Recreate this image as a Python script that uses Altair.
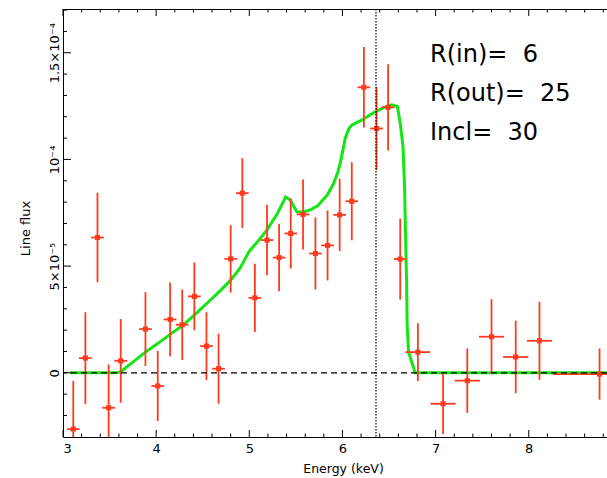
import altair as alt
import pandas as pd

# ---- data (flux in units of 1e-6) ----
energy = [3.11, 3.24, 3.37, 3.49, 3.62, 3.885, 4.017, 4.15, 4.28, 4.41, 4.54, 4.67,
          4.80, 4.925, 5.06, 5.19, 5.32, 5.445, 5.577, 5.71, 5.84, 5.97, 6.10, 6.23,
          6.366, 6.49, 6.62, 6.81, 7.08, 7.34, 7.60, 7.86, 8.115, 8.76]
flux = [-26.4, 6.9, 63.4, -16.4, 5.6, 20.5, -6.2, 25.0, 22.5, 35.8, 12.5, 1.9,
        53.4, 84.2, 35.1, 62.2, 54.0, 65.3, 74.2, 55.9, 59.7, 74.0, 80.4, 133.8,
        114.5, 124.4, 53.3, 9.7, -14.5, -3.7, 16.9, 7.4, 15.0, -0.6]
flux_err = [22.6, 21.5, 21.0, 20.3, 19.6, 17.3, 16.4, 17.3, 16.5, 15.9, 15.9, 16.4,
            15.8, 16.4, 16.0, 16.5, 15.8, 16.4, 16.4, 16.9, 16.4, 17.0, 18.3, 18.9,
            19.5, 20.2, 19.0, 13.5, 14.2, 15.1, 17.6, 17.0, 18.3, 12.0]
energy_err = [0.068] * 27 + [0.132, 0.135, 0.135, 0.135, 0.135, 0.135, 0.5]

model_energy = [3.075, 3.58, 3.62, 3.75, 3.885, 4.02, 4.15, 4.28, 4.41, 4.58, 4.70,
                4.80, 4.90, 5.00, 5.10, 5.19, 5.30, 5.39, 5.44, 5.51, 5.58, 5.66,
                5.73, 5.835, 5.905, 5.95, 5.98, 6.03, 6.07, 6.10, 6.21, 6.32, 6.44,
                6.53, 6.59, 6.62, 6.65, 6.667, 6.677, 6.688, 6.695, 6.71, 6.78, 8.84]
model_flux = [0, 0, 0.5, 5.0, 9.7, 13.8, 18.0, 22.0, 27.0, 34.0, 39.0,
              43.4, 49.0, 57.0, 62.0, 67.0, 74.5, 82.4, 81.0, 75.5, 75.4, 76.5,
              78.1, 83.2, 88.7, 94.0, 99.0, 110.0, 114.5, 116.0, 118.5, 121.5, 124.3,
              125.6, 124.8, 117.0, 106.0, 87.0, 65.0, 43.4, 21.5, 9.8, 0, 0]

line_energy = [6.36]
zero_level = [0]

x_major = [3, 4, 5, 6, 7, 8]
x_minor = [3.2, 3.4, 3.6, 3.8, 4.2, 4.4, 4.6, 4.8, 5.2, 5.4, 5.6, 5.8,
           6.2, 6.4, 6.6, 6.8, 7.2, 7.4, 7.6, 7.8, 8.2, 8.4, 8.6, 8.8]
y_major = [0, 50, 100, 150]
y_major_labels = ["0", "5×10⁻⁵", "10⁻⁴", "1.5×10⁻⁴"]
y_minor = [-20, -10, 10, 20, 30, 40, 60, 70, 80, 90, 110, 120, 130, 140, 160, 170]

NB = "\u00a0"
annotation = f"R(in)={NB} 6\nR(out)={NB} 25\nIncl={NB} 30"

# ---- styling ----
W, H = 544, 428
RED = "#ff3b1f"
GREEN = "#14e614"
FONT = "DejaVu Sans"

df = pd.DataFrame({"E": energy, "F": flux, "dF": flux_err, "dE": energy_err})
df["F_lo"] = df["F"] - df["dF"]
df["F_hi"] = df["F"] + df["dF"]
df["E_lo"] = df["E"] - df["dE"]
df["E_hi"] = df["E"] + df["dE"]
model_df = pd.DataFrame({"E": model_energy, "F": model_flux})

xs = alt.Scale(domain=[3, 8.84], nice=False, zero=False)
ys = alt.Scale(domain=[-30.1, 170.5], nice=False, zero=False)

label_expr = ""
for v, lab in zip(y_major, y_major_labels):
    label_expr += f"datum.value == {v} ? '{lab}' : "
label_expr += "''"

x_axis = alt.Axis(values=x_major, format="d", ticks=False, grid=False, domain=True,
                  domainColor="black", domainWidth=1, labelFont=FONT, labelFontSize=13,
                  labelColor="black", labelPadding=5, title="Energy (keV)",
                  titleFont=FONT, titleFontSize=12.5, titleFontWeight="normal",
                  titleColor="black", titleBaseline="middle", titleX=280, titleY=31)
y_axis = alt.Axis(values=y_major, labelExpr=label_expr, ticks=False, grid=False,
                  domain=True, domainColor="black", domainWidth=1, labelFont=FONT,
                  labelFontSize=13, labelColor="black", labelAngle=270,
                  labelAlign="center", labelBaseline="bottom", labelPadding=2,
                  title="Line flux", titleFont=FONT, titleFontSize=13,
                  titleFontWeight="normal", titleColor="black", titleAngle=270,
                  titleAlign="center", titleBaseline="middle", titleX=-38, titleY=219)


def X(field):
    return alt.X(field, scale=xs, axis=x_axis, title="Energy (keV)")


def Y(field):
    return alt.Y(field, scale=ys, axis=y_axis, title="Line flux")


model = alt.Chart(model_df).mark_line(color=GREEN, strokeWidth=3, clip=True).encode(
    x=X("E:Q"), y=Y("F:Q"))

vbars = alt.Chart(df).mark_rule(color=RED, strokeWidth=1.8, clip=True).encode(
    x=X("E:Q"), y=Y("F_lo:Q"), y2="F_hi:Q")
hbars = alt.Chart(df).mark_rule(color=RED, strokeWidth=1.8, clip=True).encode(
    x=X("E_lo:Q"), x2="E_hi:Q", y=Y("F:Q"))
pts = alt.Chart(df).mark_square(color=RED, size=26, opacity=1, clip=True).encode(
    x=X("E:Q"), y=Y("F:Q"))

zero = alt.Chart(pd.DataFrame({"F": zero_level})).mark_rule(
    color="black", strokeWidth=1.2, strokeDash=[6, 4]).encode(y=Y("F:Q"))
vline = alt.Chart(pd.DataFrame({"E": line_energy})).mark_rule(
    color="black", strokeWidth=1.2, strokeDash=[1.5, 1.5]).encode(x=X("E:Q"))

# frame top line
top = alt.Chart(pd.DataFrame({"E": [3]})).mark_rule(color="black", strokeWidth=1).encode(
    x=alt.value(0), x2=alt.value(W), y=alt.value(0.5))


def xticks(vals, length):
    d = pd.DataFrame({"E": vals})
    t = alt.Chart(d).mark_rule(color="black", strokeWidth=1).encode(
        x=X("E:Q"), y=alt.value(0), y2=alt.value(length))
    b = alt.Chart(d).mark_rule(color="black", strokeWidth=1).encode(
        x=X("E:Q"), y=alt.value(H), y2=alt.value(H - length))
    return [t, b]


def yticks(vals, length):
    d = pd.DataFrame({"F": vals})
    return [alt.Chart(d).mark_rule(color="black", strokeWidth=1).encode(
        y=Y("F:Q"), x=alt.value(0), x2=alt.value(length))]


ticks = xticks(x_major, 7) + xticks(x_minor, 3.5) + yticks(y_major, 8) + yticks(y_minor, 4)

text = alt.Chart(pd.DataFrame({"t": [annotation]})).mark_text(
    align="left", baseline="alphabetic", font=FONT, fontSize=24, color="black",
    lineBreak="\n", lineHeight=39).encode(
    text="t:N", x=alt.value(367), y=alt.value(52.7))

chart = alt.layer(model, vbars, hbars, pts, zero, vline, top, *ticks, text).properties(
    width=W, height=H,
    autosize=alt.AutoSizeParams(type="none"),
    padding={"left": 63, "top": 9, "right": 0, "bottom": 41},
).configure_view(strokeWidth=0).configure(background="white")

chart.save("out.html", embed_options={"renderer": "svg", "actions": False})
